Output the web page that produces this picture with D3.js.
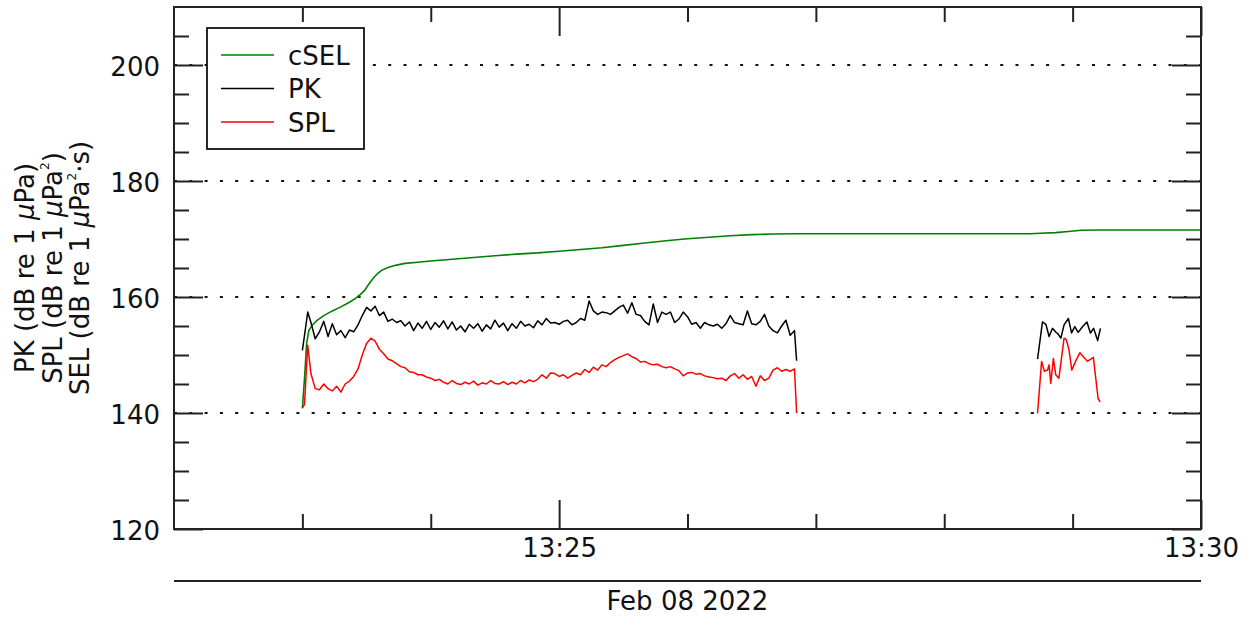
<!DOCTYPE html>
<html><head><meta charset="utf-8">
<script src="https://cdn.jsdelivr.net/npm/d3@7"></script>
<style>
body{margin:0;background:#fff}
text{font-family:"DejaVu Sans",sans-serif;fill:#111}
</style>
</head><body><svg id="c" width="1253" height="617"></svg>
<script>
// ---- data (seconds after 13:23:00, Feb 08 2022) ----
const seg1Sec = [0,1,2.5,4,6,8,10,12,14,16,18,20,22,24,26,28,30,32,34,36,38,40,42,44,46,48,50,52,54,56,58,60,62,64,66,68,70,72,74,76,78,80,82,84,86,88,90,92,94,96,98,100,102,104,106,108,110,112,114,116,118,120,122,124,126,128,130,132,134,136,138,140,142,144,146,148,150,152,154,156,158,160,162,164,166,168,170,172,174,176,178,180,182,184,186,188,190,192,194,196,198,200,202,204,206,208,210,212,214,216,218,220,222,224,226,228,230,231];
const pk1 = [150.8,153.4,157.4,155.6,152.8,154.0,155.8,153.2,155.4,153.5,154.2,153.0,154.3,154.0,155.2,156.8,158.2,157.6,158.4,156.8,157.4,155.8,156.2,155.6,155.9,155.0,155.7,154.2,155.5,154.6,155.8,154.4,155.6,154.8,155.9,154.5,155.7,154.3,155.0,154.0,155.3,154.6,155.4,154.1,155.2,154.5,156.0,154.8,155.5,154.2,155.4,154.6,155.8,155.0,155.3,154.7,155.9,155.2,156.3,155.5,155.6,155.3,155.8,156.0,155.2,155.6,156.3,156.0,159.3,157.6,157.0,157.4,157.3,157.0,157.6,158.2,158.6,157.2,159.0,157.0,156.8,155.8,155.2,158.8,155.6,157.4,157.0,157.4,155.6,156.2,157.4,156.6,155.3,155.6,154.6,155.6,155.2,155.0,155.3,154.6,155.4,156.8,155.6,155.4,155.2,157.6,155.4,155.2,155.8,157.0,155.0,154.2,153.8,155.0,156.0,153.4,154.2,149.0];
const spl1 = [140.9,141.5,151.7,146.8,144.2,144.0,145.0,144.2,143.8,144.6,143.6,145.0,145.5,146.3,147.6,150.0,152.0,152.9,152.4,151.0,150.2,149.3,149.0,148.5,148.0,147.8,147.1,147.0,146.6,146.6,146.2,146.0,145.6,145.8,145.3,145.0,145.6,145.1,144.9,145.3,145.0,145.5,144.8,145.2,145.0,145.6,145.1,145.0,145.4,144.9,145.3,145.0,145.6,145.2,145.7,145.4,145.8,146.6,146.0,146.9,146.8,146.3,146.6,146.0,146.5,146.9,146.6,147.5,147.0,147.9,147.4,148.3,148.0,148.7,149.2,149.6,149.9,150.2,149.7,149.4,148.8,148.9,148.5,148.3,148.4,148.0,147.8,148.0,147.6,147.3,146.4,146.9,147.0,146.7,146.8,146.4,146.2,146.1,145.9,146.0,145.6,146.4,146.8,146.0,146.6,145.8,146.3,144.6,146.4,145.6,146.0,147.4,147.8,147.2,147.5,147.2,147.6,140.0];
const pk2Sec = [343.6,345.9,347.5,349,350.6,352,353,354.5,356,358,359.5,361,362.6,364.7,366.7,368.3,369.8,371.7,373];
const pk2 = [149.3,155.7,155.3,153.2,154.6,154.0,153.7,152.9,155.2,156.3,153.8,154.9,153.9,154.9,155.7,153.8,154.6,152.5,154.6];
const spl2Sec = [343.6,345.5,346.8,348.3,349,349.8,351,352.1,353.6,356,357,358.3,359.6,361.4,363.4,366.9,369.7,371.9,372.9];
const spl2 = [139.95,148.9,147.2,147.4,148.3,145.1,149.4,146.6,146.0,152.9,152.7,150.9,147.4,148.9,150.4,148.9,149.6,142.5,141.9];
const cselSec = [0,1,2,3,4.5,7,10,14,18,22,25,27,29,31,33,35,37,40,44,48,54,60,70,80,90,100,110,120,130,140,150,160,170,180,190,200,210,220,230,240,300,340,345,352,358,364,372,420];
const csel = [140.8,146.0,152.0,154.2,155.1,156.0,156.8,157.6,158.3,159.1,159.8,160.4,161.1,162.2,163.2,164.0,164.6,165.1,165.5,165.8,166.0,166.2,166.5,166.8,167.1,167.4,167.6,167.9,168.2,168.5,168.9,169.3,169.7,170.05,170.3,170.55,170.75,170.85,170.9,170.9,170.9,170.9,171.0,171.1,171.3,171.5,171.55,171.55];

const yMajor = [120,140,160,180,200];
const yMinor = [125,130,135,145,150,155,165,170,175,185,190,195,205];
const gridValues = [140,160,180,200];
const xMajorMin = [25,30];            // minutes past 13:00 with labels
const xMinorMin = [23,24,26,27,28,29];
const legendLabels = ["cSEL","PK","SPL"];
const seriesColors = ["#008000","#000000","#ff0000"];
const dateLabel = "Feb 08 2022";

// ---- layout ----
const L=174,R=1201,T=7,B=529;
const base = new Date(2022,1,8,13,23,0);
const toDate = s => new Date(base.getTime()+s*1000);
const atMin = m => new Date(2022,1,8,13,m,0);
const x = d3.scaleTime().domain([atMin(22),atMin(30)]).range([L,R]);
const y = d3.scaleLinear().domain([120,210]).range([B,T]);
const svg = d3.select("#c");
const AX="#222";

// grid
svg.append("g").selectAll("line").data(gridValues).join("line")
  .attr("x1",L).attr("x2",R).attr("y1",d=>y(d)).attr("y2",d=>y(d))
  .attr("stroke","#111").attr("stroke-width",2).attr("stroke-dasharray","3,12.3");

// lines
const line = d3.line().x(d=>x(toDate(d[0]))).y(d=>y(d[1]));
const plot = svg.append("g");
plot.append("path").attr("d",line(d3.zip(cselSec,csel))).attr("fill","none").attr("stroke",seriesColors[0]).attr("stroke-width",1.6);
plot.append("path").attr("d",line(d3.zip(seg1Sec,pk1))).attr("fill","none").attr("stroke",seriesColors[1]).attr("stroke-width",1.5).attr("stroke-linejoin","round");
plot.append("path").attr("d",line(d3.zip(pk2Sec,pk2))).attr("fill","none").attr("stroke",seriesColors[1]).attr("stroke-width",1.5).attr("stroke-linejoin","round");
plot.append("path").attr("d",line(d3.zip(seg1Sec,spl1))).attr("fill","none").attr("stroke",seriesColors[2]).attr("stroke-width",1.5).attr("stroke-linejoin","round");
plot.append("path").attr("d",line(d3.zip(spl2Sec,spl2))).attr("fill","none").attr("stroke",seriesColors[2]).attr("stroke-width",1.5).attr("stroke-linejoin","round");

function styleAxis(g){
  g.select(".domain").remove();
  g.selectAll(".tick line").attr("stroke",AX).attr("stroke-width",2);
  g.selectAll(".tick text").attr("fill","#111").attr("font-size",26).attr("font-family","DejaVu Sans");
}
// y axes
svg.append("g").attr("transform",`translate(${L},0)`)
  .call(d3.axisLeft(y).tickValues(yMajor).tickSize(-29).tickPadding(14).tickFormat(d3.format("d")))
  .call(styleAxis).call(g=>g.selectAll(".tick text").attr("dy","0.4em"));
svg.append("g").attr("transform",`translate(${L},0)`)
  .call(d3.axisLeft(y).tickValues(yMinor).tickSize(-15).tickFormat("")).call(styleAxis);
svg.append("g").attr("transform",`translate(${R},0)`)
  .call(d3.axisRight(y).tickValues(yMajor).tickSize(-29).tickFormat("")).call(styleAxis);
svg.append("g").attr("transform",`translate(${R},0)`)
  .call(d3.axisRight(y).tickValues(yMinor).tickSize(-15).tickFormat("")).call(styleAxis);
// x axes
svg.append("g").attr("transform",`translate(0,${B})`)
  .call(d3.axisBottom(x).tickValues(xMajorMin.map(atMin)).tickSize(-29).tickPadding(10).tickFormat(d3.timeFormat("%H:%M")))
  .call(styleAxis);
svg.append("g").attr("transform",`translate(0,${B})`)
  .call(d3.axisBottom(x).tickValues(xMinorMin.map(atMin)).tickSize(-15).tickFormat("")).call(styleAxis);
svg.append("g").attr("transform",`translate(0,${T})`)
  .call(d3.axisTop(x).tickValues(xMajorMin.map(atMin)).tickSize(-29).tickFormat("")).call(styleAxis);
svg.append("g").attr("transform",`translate(0,${T})`)
  .call(d3.axisTop(x).tickValues(xMinorMin.map(atMin)).tickSize(-15).tickFormat("")).call(styleAxis);

// frame
svg.append("rect").attr("x",L).attr("y",T).attr("width",R-L).attr("height",B-T)
  .attr("fill","none").attr("stroke",AX).attr("stroke-width",2);

// date axis
svg.append("line").attr("x1",L).attr("x2",R).attr("y1",581).attr("y2",581).attr("stroke",AX).attr("stroke-width",2);
svg.append("text").attr("x",(L+R)/2).attr("y",610).attr("text-anchor","middle").attr("font-size",26).text(dateLabel);

// y label
const yl = svg.append("g").attr("transform",`translate(0,${(T+B)/2}) rotate(-90)`);
function ylab(yy, prefix, sup, tail){
  const t = yl.append("text").attr("x",0).attr("y",yy).attr("text-anchor","middle").attr("font-size",26);
  t.append("tspan").text(prefix);
  t.append("tspan").attr("font-style","italic").text("\u03bc");
  t.append("tspan").text("Pa");
  if(sup){
    t.append("tspan").attr("font-size",12).attr("dy",-13).text(sup);
    t.append("tspan").attr("dy",13).text(tail);
  } else t.append("tspan").text(tail);
}
ylab(34,"PK (dB re 1 ",null,")");
ylab(61.5,"SPL (dB re 1 ","2",")");
ylab(89,"SEL (dB re 1 ","2","\u00b7s)");

// legend
const lg = svg.append("g");
lg.append("rect").attr("x",207).attr("y",28).attr("width",157).attr("height",121)
  .attr("fill","#fff").attr("stroke","#111").attr("stroke-width",1.8);
legendLabels.forEach((lab,i)=>{
  const yy = 55 + i*33.5;
  lg.append("line").attr("x1",221).attr("x2",274).attr("y1",yy).attr("y2",yy)
    .attr("stroke",seriesColors[i]).attr("stroke-width",1.6);
  lg.append("text").attr("x",288).attr("y",yy+9.5).attr("font-size",26).text(lab);
});
</script>
</body></html>
